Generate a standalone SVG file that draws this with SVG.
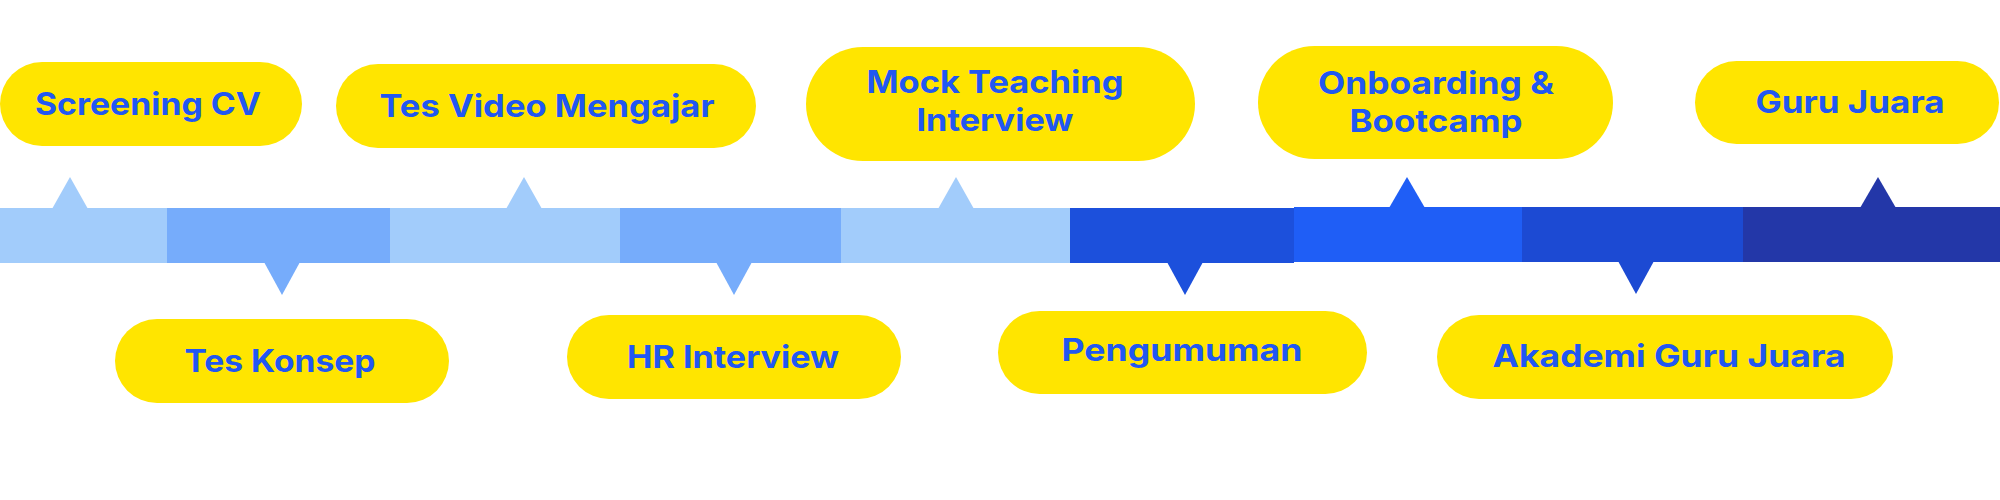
<svg xmlns="http://www.w3.org/2000/svg" width="2000" height="500" viewBox="0 0 2000 500">
<style>
.pill{fill:#FFE500}
.lbl{font-family:Inter,"Open Sans","Liberation Sans",sans-serif;font-weight:700;font-size:31px;fill:#2157F2;text-anchor:middle}
.c1{fill:#A2CCFB}.c2{fill:#76ACFB}.c3{fill:#1C50DC}.c4{fill:#1F5EF6}.c5{fill:#1C4AD3}.c6{fill:#2337A8}
</style>
<rect width="2000" height="500" fill="#FFFFFF"/>
<g id="connectors">
<rect class="c1" x="0" y="208" width="168" height="55"/>
<rect class="c2" x="167" y="208" width="223" height="55"/>
<rect class="c1" x="390" y="208" width="230" height="55"/>
<rect class="c2" x="620" y="208" width="221" height="55"/>
<rect class="c1" x="841" y="208" width="229" height="55"/>
<rect class="c3" x="1070" y="208" width="224" height="55"/>
<rect class="c4" x="1294" y="207" width="228" height="55"/>
<rect class="c5" x="1522" y="207" width="221" height="55"/>
<rect class="c6" x="1743" y="207" width="257" height="55"/>
<polygon class="c1" points="52,209 70,177 88,209"/>
<polygon class="c2" points="264,262 282,295 300,262"/>
<polygon class="c1" points="506,209 524,177 542,209"/>
<polygon class="c2" points="716,262 734,295 752,262"/>
<polygon class="c1" points="938,209 956,177 974,209"/>
<polygon class="c3" points="1167,262 1185,295 1203,262"/>
<polygon class="c4" points="1389,208 1407,177 1425,208"/>
<polygon class="c5" points="1618,261 1636,294 1654,261"/>
<polygon class="c6" points="1860,208 1878,177 1896,208"/>
</g>
<g id="n1"><rect class="pill" x="0" y="62" width="302" height="84" rx="42"/><text class="lbl" x="148" y="115" textLength="226" lengthAdjust="spacingAndGlyphs">Screening CV</text></g>
<g id="n2"><rect class="pill" x="115" y="319" width="334" height="84" rx="42"/><text class="lbl" x="280" y="372" textLength="191" lengthAdjust="spacingAndGlyphs">Tes Konsep</text></g>
<g id="n3"><rect class="pill" x="336" y="64" width="420" height="84" rx="42"/><text class="lbl" x="547" y="117" textLength="335" lengthAdjust="spacingAndGlyphs">Tes Video Mengajar</text></g>
<g id="n4"><rect class="pill" x="567" y="315" width="334" height="84" rx="42"/><text class="lbl" x="733" y="368" textLength="212" lengthAdjust="spacingAndGlyphs">HR Interview</text></g>
<g id="n5"><rect class="pill" x="806" y="47" width="389" height="114" rx="57"/><text class="lbl" x="995" y="93" textLength="257" lengthAdjust="spacingAndGlyphs">Mock Teaching</text><text class="lbl" x="995" y="131" textLength="157" lengthAdjust="spacingAndGlyphs">Interview</text></g>
<g id="n6"><rect class="pill" x="998" y="311" width="369" height="83" rx="41.5"/><text class="lbl" x="1182" y="361" textLength="241" lengthAdjust="spacingAndGlyphs">Pengumuman</text></g>
<g id="n7"><rect class="pill" x="1258" y="46" width="355" height="113" rx="56.5"/><text class="lbl" x="1436" y="94" textLength="236" lengthAdjust="spacingAndGlyphs">Onboarding &amp;</text><text class="lbl" x="1436" y="132" textLength="173" lengthAdjust="spacingAndGlyphs">Bootcamp</text></g>
<g id="n8"><rect class="pill" x="1437" y="315" width="456" height="84" rx="42"/><text class="lbl" x="1669" y="367" textLength="353" lengthAdjust="spacingAndGlyphs">Akademi Guru Juara</text></g>
<g id="n9"><rect class="pill" x="1695" y="61" width="304" height="83" rx="41.5"/><text class="lbl" x="1850" y="113" textLength="189" lengthAdjust="spacingAndGlyphs">Guru Juara</text></g>
</svg>
